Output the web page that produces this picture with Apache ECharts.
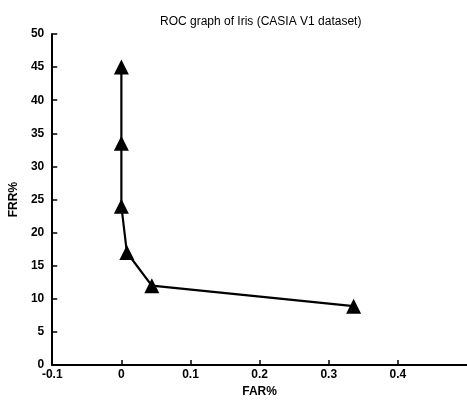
<!DOCTYPE html>
<html>
<head>
<meta charset="utf-8">
<script src="https://cdn.jsdelivr.net/npm/echarts@6/dist/echarts.min.js"></script>
<style>
  html, body { margin: 0; padding: 0; background: #fff; }
  #chart { width: 467px; height: 403px; }
</style>
</head>
<body>
<div id="chart"></div>
<script>
// ROC operating points: false acceptance rate vs false rejection rate
const farValues = [0, 0, 0, 0.008, 0.044, 0.336];
const frrValues = [45, 33.5, 24, 17, 12, 8.9];
const xTickLabels = { '-0.1': '-0.1', '0': '0', '0.1': '0.1', '0.2': '0.2', '0.3': '0.3', '0.4': '0.4' };

const points = farValues.map((x, i) => [x, frrValues[i]]);

const chart = echarts.init(document.getElementById('chart'));
const axisFont = { fontFamily: 'Liberation Sans, Arial, sans-serif', fontSize: 12, fontWeight: 'bold', color: '#000' };

chart.setOption({
  animation: false,
  backgroundColor: '#fff',
  title: {
    text: 'ROC graph of Iris (CASIA V1 dataset)',
    left: 155,
    top: 11,
    textStyle: { fontFamily: 'Liberation Sans, Arial, sans-serif', fontSize: 12, fontWeight: 'normal', color: '#000' }
  },
  grid: { left: 50, top: 34, bottom: 31, right: -5 },
  xAxis: {
    type: 'value',
    min: -0.1,
    max: 0.5,
    interval: 0.1,
    name: 'FAR%',
    nameLocation: 'middle',
    nameGap: 18,
    nameTextStyle: axisFont,
    axisLine: { onZero: false, lineStyle: { color: '#000', width: 2 } },
    axisTick: { inside: true, length: 5, lineStyle: { color: '#000', width: 1.5 } },
    splitLine: { show: false },
    axisLabel: {
      ...axisFont,
      margin: 4,
      showMaxLabel: false,
      formatter: v => xTickLabels[(Math.round(v * 10) / 10).toString()] || ''
    }
  },
  yAxis: {
    type: 'value',
    min: 0,
    max: 50,
    interval: 5,
    name: 'FRR%',
    nameLocation: 'middle',
    nameGap: 30,
    nameTextStyle: axisFont,
    axisLine: { onZero: false, lineStyle: { color: '#000', width: 2 } },
    axisTick: { inside: true, length: 5, lineStyle: { color: '#000', width: 1.5 } },
    splitLine: { show: false },
    axisLabel: { ...axisFont, margin: 8 }
  },
  series: [{
    type: 'line',
    data: points,
    symbol: 'triangle',
    symbolSize: 15,
    lineStyle: { color: '#000', width: 2.2 },
    itemStyle: { color: '#000' }
  }]
});
</script>
</body>
</html>
